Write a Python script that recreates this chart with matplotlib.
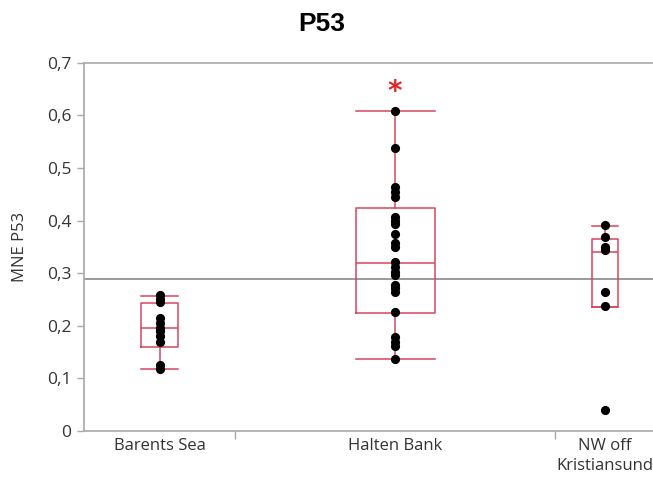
import numpy as np
import matplotlib
matplotlib.use('Agg')
import matplotlib.pyplot as plt
from matplotlib.ticker import FuncFormatter

plt.rcParams['font.family'] = ['Open Sans', 'DejaVu Sans']

# MNE P53 per site
groups = ['Barents Sea', 'Halten Bank', 'NW off\nKristiansund']
barents = [0.258, 0.250, 0.245, 0.215, 0.205, 0.195, 0.190, 0.180, 0.170, 0.125, 0.118]
halten = [0.608, 0.538, 0.464, 0.454, 0.445, 0.407, 0.400, 0.394, 0.375, 0.357,
          0.350, 0.321, 0.312, 0.302, 0.296, 0.277, 0.271, 0.264, 0.226, 0.179,
          0.169, 0.161, 0.136]
nw_kristiansund = [0.391, 0.368, 0.350, 0.344, 0.264, 0.237, 0.040]
values = [barents, halten, nw_kristiansund]

# box-plot summaries (quantiles as reported)
q1 = [0.160, 0.225, 0.236]
med = [0.196, 0.320, 0.340]
q3 = [0.243, 0.423, 0.364]
whis_lo = [0.118, 0.136, 0.236]
whis_hi = [0.256, 0.608, 0.389]

# groups flagged as significantly different
flagged = [False, True, False]

# x layout: category edges and box widths in axis units
edges = [0, 151, 471, 570]
centers = [(a + b) / 2 for a, b in zip(edges[:-1], edges[1:])]
box_w = [37, 79, 26]

BOX_RED = '#d8455c'
SPINE = '#a8a8a8'
TEXT = '#333333'

fig = plt.figure(figsize=(6.53, 4.79), dpi=100)
ax = fig.add_axes([84 / 653, 1 - 431 / 479, 570 / 653, (431 - 62.7) / 479])

stats = []
for i in range(len(groups)):
    stats.append({'q1': q1[i], 'med': med[i], 'q3': q3[i],
                  'whislo': whis_lo[i], 'whishi': whis_hi[i], 'fliers': []})
style = dict(color=BOX_RED, linewidth=1.1)
ax.bxp(stats, positions=centers, widths=box_w, capwidths=box_w,
       showfliers=False, manage_ticks=False,
       boxprops=style, medianprops=style, whiskerprops=style, capprops=style)

for c, vals in zip(centers, values):
    ax.plot([c] * len(vals), vals, 'o', color='black', markersize=6.6,
            markeredgewidth=0, zorder=4)

for c, vals, flag in zip(centers, values, flagged):
    if flag:
        ax.text(c, max(vals) + 0.036, '*', color='#e3262b', fontsize=20,
                fontweight='bold', ha='center', va='center', family='DejaVu Sans')

grand_mean = np.mean(np.concatenate([np.array(v) for v in values]))
ax.axhline(grand_mean, color='#9a9a9a', linewidth=1.4, zorder=1)

ax.set_xlim(edges[0], edges[-1])
ax.set_ylim(0, 0.7)

ax.set_yticks(np.arange(0, 0.71, 0.1))
ax.yaxis.set_major_formatter(FuncFormatter(
    lambda v, _: '0' if abs(v) < 1e-9 else f'{v:.1f}'.replace('.', ',')))
ax.tick_params(axis='y', colors=SPINE, labelcolor=TEXT, labelsize=12.5,
               length=5, width=1, pad=4)

ax.set_xticks(edges[1:-1])
ax.set_xticklabels([])
ax.set_xticks(centers, minor=True)
ax.set_xticklabels(groups, minor=True, linespacing=1.35)
ax.tick_params(axis='x', which='major', colors=SPINE, length=6, width=1)
ax.tick_params(axis='x', which='minor', length=0, labelcolor=TEXT,
               labelsize=12, pad=5)

ax.set_ylabel('MNE P53', color=TEXT, fontsize=12, labelpad=14)

for side in ['left', 'bottom', 'top']:
    ax.spines[side].set_color(SPINE)
    ax.spines[side].set_linewidth(1.2)
ax.spines['right'].set_visible(False)

fig.suptitle('P53', x=0.493, y=0.975, fontsize=19, fontweight='bold',
             family=['Liberation Sans', 'DejaVu Sans'])

fig.savefig('out.png', dpi=100)
